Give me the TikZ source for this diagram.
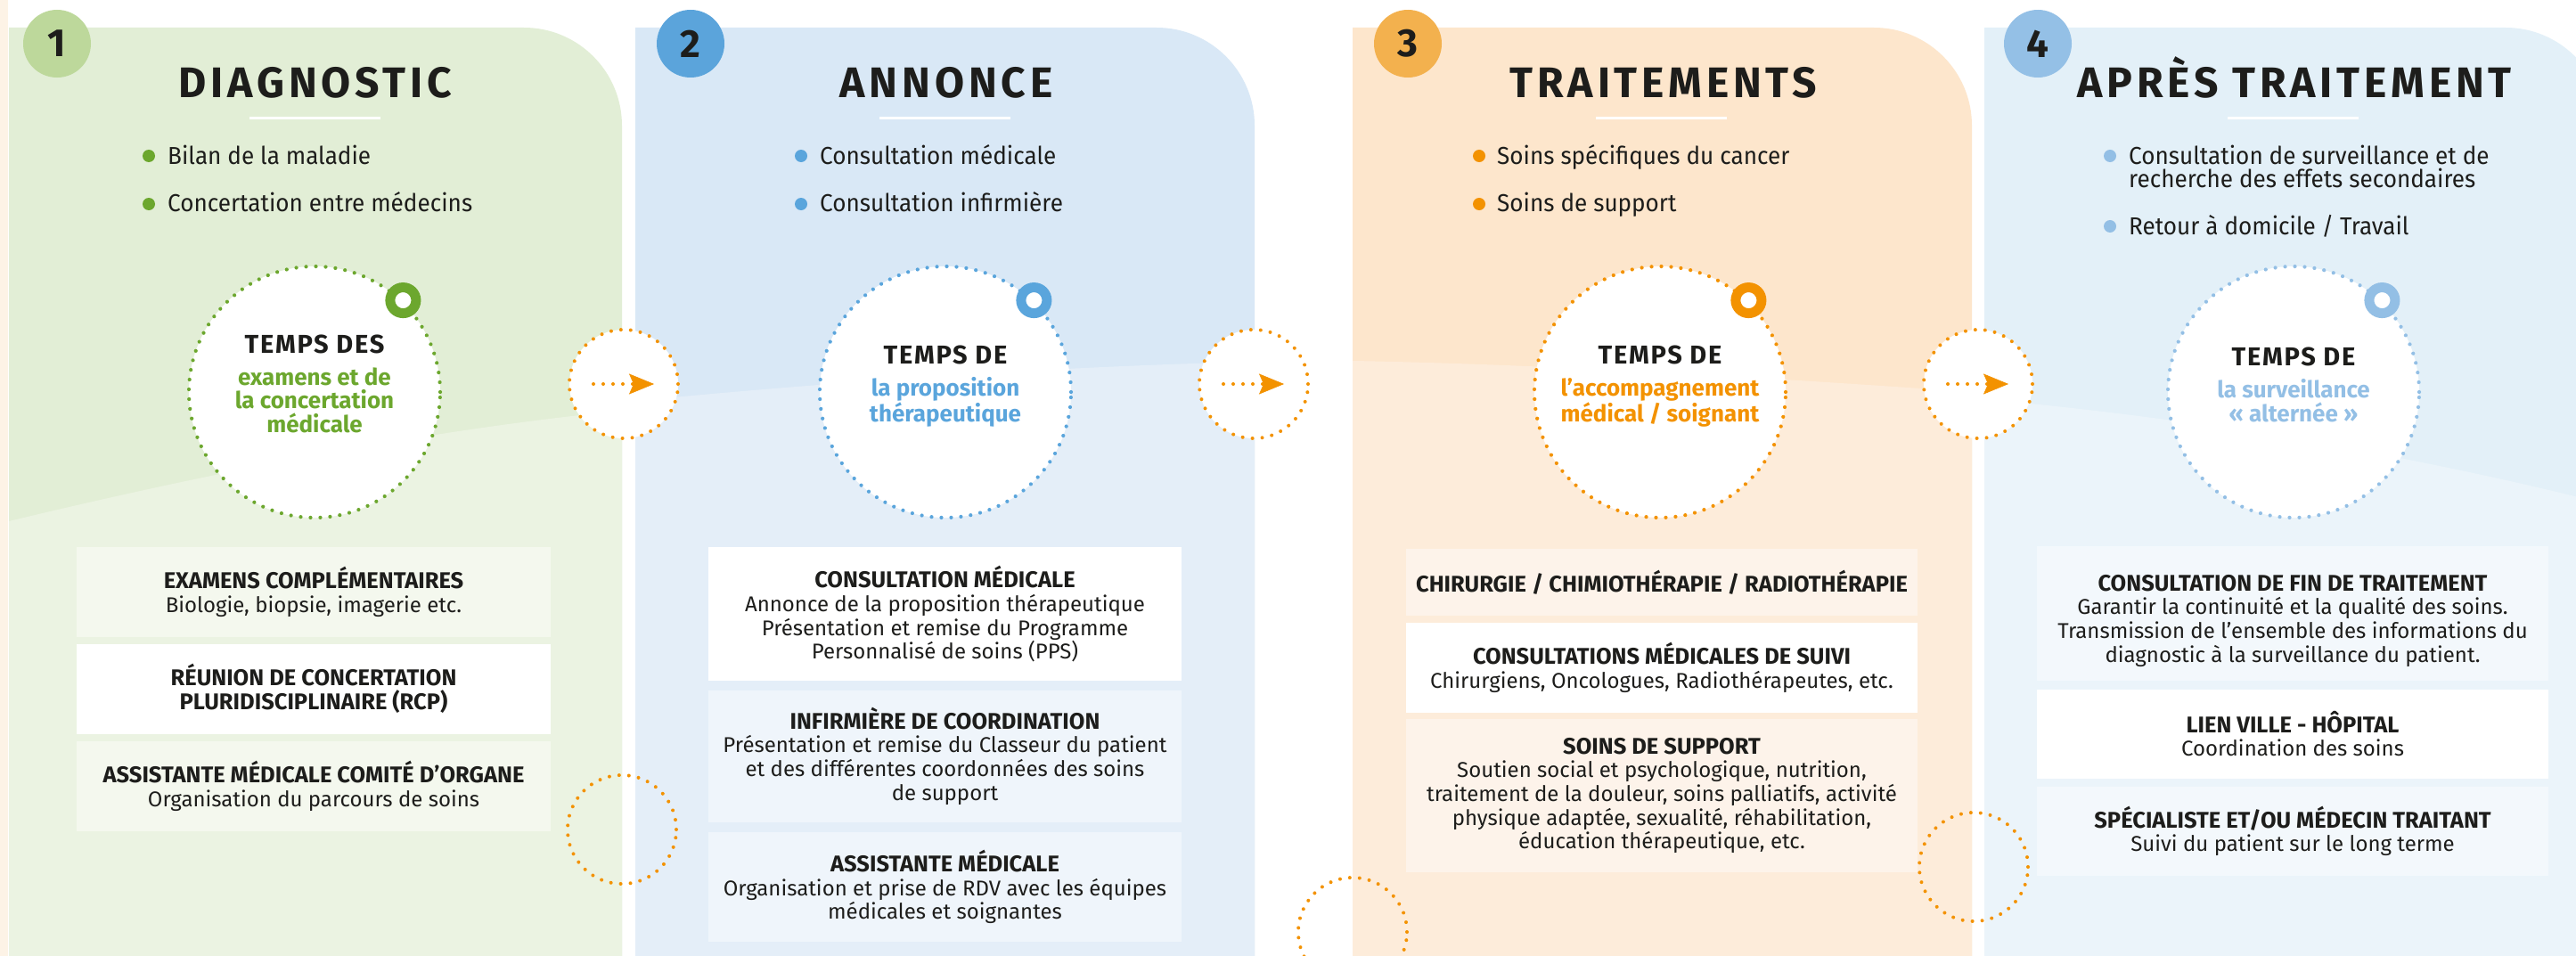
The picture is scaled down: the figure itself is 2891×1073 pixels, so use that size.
\documentclass[tikz,border=0pt]{standalone}
\usepackage{fontspec}
\setmainfont{Fira Sans}
\newfontfamily\spacedfont{Fira Sans}[LetterSpace=10]
\newfontfamily\tempsfont{Fira Sans}[LetterSpace=6]
\newfontfamily\narrowfont{Fira Sans}[FakeStretch=0.95]
\usetikzlibrary{positioning,arrows.meta}

\definecolor{ink}{HTML}{1D1D1B}
\definecolor{vertA}{HTML}{6CA72E}
\definecolor{bleuA}{HTML}{5AA5DC}
\definecolor{orA}{HTML}{F39200}
\definecolor{cielA}{HTML}{93BFE5}
\definecolor{vertN}{HTML}{BDD89B}
\definecolor{bleuN}{HTML}{5BA4DB}
\definecolor{orN}{HTML}{F3B14E}
\definecolor{cielN}{HTML}{94C0E6}
\definecolor{vertF}{HTML}{E2EED6}
\definecolor{vertC}{HTML}{EBF3E2}
\definecolor{vertB}{HTML}{F4F8EE}
\definecolor{bleuF}{HTML}{D9E8F6}
\definecolor{bleuC}{HTML}{E4EEF8}
\definecolor{bleuB}{HTML}{EFF5FB}
\definecolor{orF}{HTML}{FDE6CC}
\definecolor{orC}{HTML}{FDECDA}
\definecolor{orB}{HTML}{FDF3EA}
\definecolor{cielF}{HTML}{E3F0F8}
\definecolor{cielC}{HTML}{EBF4FA}
\definecolor{cielB}{HTML}{F3F8FC}
\definecolor{bord}{HTML}{FDF3E6}

% titre de boite
\newcommand{\bt}[1]{{\bfseries\fontsize{25.5}{26.7}\selectfont #1}}
% premiere ligne des cercles
\newcommand{\tp}[1]{{\color{ink}\tempsfont\bfseries\fontsize{29}{26.5}\selectfont #1}}

\begin{document}
\begin{tikzpicture}[x=1pt, y=-1pt, node distance=8pt,
    num/.style={circle, fill=#1, minimum size=76pt, inner sep=0pt, text=ink, font=\bfseries\fontsize{44}{44}\selectfont},
    titre/.style={anchor=base, inner sep=0pt, text=ink, font=\spacedfont\bfseries\fontsize{48}{48}\selectfont},
    trait/.style={draw=white, line width=3pt},
    puce/.style={circle, fill=#1, minimum size=14pt, inner sep=0pt},
    item/.style={anchor=base west, inner sep=0pt, text=ink, align=left, font=\narrowfont\fontsize{27.5}{25.5}\selectfont},
    temps/.style={circle, fill=white, draw=#1, line width=4.2pt, dash pattern=on 0pt off 11pt, line cap=round, minimum size=282pt, inner sep=0pt},
    anneau/.style={circle, fill=white, draw=#1, line width=11pt, minimum size=29pt, inner sep=0pt},
    tempstext/.style={anchor=base, inner sep=0pt, align=center, text=#1, font=\bfseries\fontsize{26}{26.5}\selectfont},
    etape/.style={circle, fill=white, draw=orA, line width=4pt, dash pattern=on 0pt off 11pt, line cap=round, minimum size=122pt, inner sep=0pt},
    deco/.style={etape, fill=none},
    fleche/.style={draw=orA, line width=4pt, dash pattern=on 0pt off 11pt, line cap=round, -{Stealth[length=28pt, width=23pt, inset=5pt, line width=0.5pt]}},
    boite/.style={fill=#1, inner sep=0pt, align=center, text=ink, font=\fontsize{24}{26.7}\selectfont}]

    \clip (0,0) rectangle (2891,1073);
    \fill[white] (0,0) rectangle (2891,1073);
    \fill[bord] (0,0) rectangle (9,1073);

    % fonds des colonnes
    \fill[vertF] (10,1073) -- (10,31) -- (588,31) arc[start angle=-90, end angle=0, radius=110] -- (698,1073) -- cycle;
    \fill[vertC] (10,585) .. controls (272.7,521.7) and (502,480.3) .. (698,461) -- (698,1073) -- (10,1073) -- cycle;
    \fill[bleuF] (713,1073) -- (713,31) -- (1298,31) arc[start angle=-90, end angle=0, radius=110] -- (1408,1073) -- cycle;
    \fill[bleuC] (713,450) .. controls (963,426) and (1194.7,411.3) .. (1408,406) -- (1408,1073) -- (713,1073) -- cycle;
    \fill[orF] (1518,1073) -- (1518,31) -- (2103,31) arc[start angle=-90, end angle=0, radius=110] -- (2213,1073) -- cycle;
    \fill[orC] (1518,405) .. controls (1699.3,408.3) and (1931,420) .. (2213,440) -- (2213,1073) -- (1518,1073) -- cycle;
    \fill[cielF] (2227,1073) -- (2227,31) -- (2812,31) arc[start angle=-90, end angle=0, radius=110] -- (2922,1073) -- cycle;
    \fill[cielC] (2227,448) .. controls (2467.7,470) and (2699.3,509) .. (2922,565) -- (2922,1073) -- (2227,1073) -- cycle;

    % numeros et titres
    \node[num=vertN] (n1) at (64,49) {1};
    \node[num=bleuN] (n2) at (775,49) {2};
    \node[num=orN] (n3) at (1580,49) {3};
    \node[num=cielN] (n4) at (2287,49) {4};
    \node[titre] (t1) at (354,109) {DIAGNOSTIC};
    \node[titre] (t2) at (1062,109) {ANNONCE};
    \node[titre] (t3) at (1867,109) {TRAITEMENTS};
    \node[titre] (t4) at (2575,109) {APRÈS TRAITEMENT};
    \draw[trait] (280,132) -- (427,132);
    \draw[trait] (987,132) -- (1134,132);
    \draw[trait] (1791,132) -- (1938,132);
    \draw[trait] (2500,132) -- (2647,132);

    % puces
    \node[puce=vertA] (p11) at (167,175) {};
    \node[item] (i11) at (188,184.5) {Bilan de la maladie};
    \node[puce=vertA] (p12) at (167,229) {};
    \node[item] (i12) at (188,237) {Concertation entre médecins};
    \node[puce=bleuA] (p21) at (899,175) {};
    \node[item] (i21) at (920,184.5) {Consultation médicale};
    \node[puce=bleuA] (p22) at (899,229) {};
    \node[item] (i22) at (920,237) {Consultation infirmière};
    \node[puce=orA] (p31) at (1660,175) {};
    \node[item] (i31) at (1680,184.5) {Soins spécifiques du cancer};
    \node[puce=orA] (p32) at (1660,229) {};
    \node[item] (i32) at (1680,237) {Soins de support};
    \node[puce=cielA] (p41) at (2368,175) {};
    \node[item] (i41) at (2389,210) {Consultation de surveillance et de\\recherche des effets secondaires};
    \node[puce=cielA] (p42) at (2368,254) {};
    \node[item] (i42) at (2389,263) {Retour à domicile / Travail};

    % boites
    \node[boite=vertB, minimum width=532pt, minimum height=101pt, anchor=north] (b11) at (352,614)
        {\bt{EXAMENS COMPLÉMENTAIRES}\\Biologie, biopsie, imagerie etc.};
    \node[boite=white, minimum width=532pt, minimum height=101pt, below=7pt of b11] (b12)
        {\bt{RÉUNION DE CONCERTATION}\\\bt{PLURIDISCIPLINAIRE (RCP)}};
    \node[boite=vertB, minimum width=532pt, minimum height=101pt, below=8pt of b12] (b13)
        {\bt{ASSISTANTE MÉDICALE COMITÉ D'ORGANE}\\Organisation du parcours de soins};
    \node[boite=white, minimum width=531pt, minimum height=150pt, anchor=north] (b21) at (1060.5,614)
        {\bt{CONSULTATION MÉDICALE}\\Annonce de la proposition thérapeutique\\Présentation et remise du Programme\\Personnalisé de soins (PPS)};
    \node[boite=bleuB, minimum width=531pt, minimum height=148pt, below=10pt of b21] (b22)
        {\bt{INFIRMIÈRE DE COORDINATION}\\Présentation et remise du Classeur du patient\\et des différentes coordonnées des soins\\de support};
    \node[boite=bleuB, minimum width=531pt, minimum height=123pt, below=11pt of b22] (b23)
        {\bt{ASSISTANTE MÉDICALE}\\Organisation et prise de RDV avec les équipes\\médicales et soignantes};
    \node[boite=orB, minimum width=574pt, minimum height=75pt, anchor=north] (b31) at (1865,616)
        {\bt{CHIRURGIE / CHIMIOTHÉRAPIE / RADIOTHÉRAPIE}};
    \node[boite=white, minimum width=574pt, minimum height=101pt, below=7pt of b31] (b32)
        {\bt{CONSULTATIONS MÉDICALES DE SUIVI}\\Chirurgiens, Oncologues, Radiothérapeutes, etc.};
    \node[boite=orB, minimum width=574pt, minimum height=172pt, below=7pt of b32] (b33)
        {\bt{SOINS DE SUPPORT}\\Soutien social et psychologique, nutrition,\\traitement de la douleur, soins palliatifs, activité\\physique adaptée, sexualité, réhabilitation,\\éducation thérapeutique, etc.};
    \node[boite=cielB, minimum width=574pt, minimum height=151pt, text height=114pt, anchor=north] (b41) at (2573,613)
        {\bt{CONSULTATION DE FIN DE TRAITEMENT}\\Garantir la continuité et la qualité des soins.\\Transmission de l'ensemble des informations du\\diagnostic à la surveillance du patient.};
    \node[boite=white, minimum width=574pt, minimum height=100pt, below=9pt of b41] (b42)
        {\bt{LIEN VILLE - HÔPITAL}\\Coordination des soins};
    \node[boite=cielB, minimum width=574pt, minimum height=100pt, below=9pt of b42] (b43)
        {\bt{SPÉCIALISTE ET/OU MÉDECIN TRAITANT}\\Suivi du patient sur le long terme};

    % cercles des temps
    \node[temps=vertA] (c1) at (353,440) {};
    \node[temps=bleuA] (c2) at (1061,440) {};
    \node[temps=orA] (c3) at (1863,440) {};
    \node[temps=cielA] (c4) at (2574,440) {};
    \node[anneau=vertA] (r1) at (c1.46) {};
    \node[anneau=bleuA] (r2) at (c2.46) {};
    \node[anneau=orA] (r3) at (c3.46) {};
    \node[anneau=cielA] (r4) at (c4.46) {};
    \node[tempstext=vertA] (x1) at (353,485)
        {\tp{TEMPS DES}\\[9.5pt]examens et de\\la concertation\\médicale};
    \node[tempstext=bleuA] (x2) at (1061,473)
        {\tp{TEMPS DE}\\[9.5pt]la proposition\\thérapeutique};
    \node[tempstext=orA] (x3) at (1863,473)
        {\tp{TEMPS DE}\\[9.5pt]l’accompagnement\\médical / soignant};
    \node[tempstext=cielA] (x4) at (2574,473)
        {\tp{TEMPS DE}\\[9.5pt]la surveillance\\« alternée »};

    % passages d'une etape a l'autre
    \node[etape] (e1) at (700,431) {};
    \node[etape] (e2) at (1407,431) {};
    \node[etape] (e3) at (2220,431) {};
    \foreach \e in {e1,e2,e3} {
        \coordinate (\e a) at ([xshift=-34pt]\e.center);
        \coordinate (\e b) at ([xshift=34pt]\e.center);
        \draw[fleche] (\e a) -- (\e b);
    }
    \node[deco] (d1) at (698,931) {};
    \node[deco] (d2) at (1518,1046) {};
    \node[deco] (d3) at (2215,973) {};
\end{tikzpicture}
\end{document}
